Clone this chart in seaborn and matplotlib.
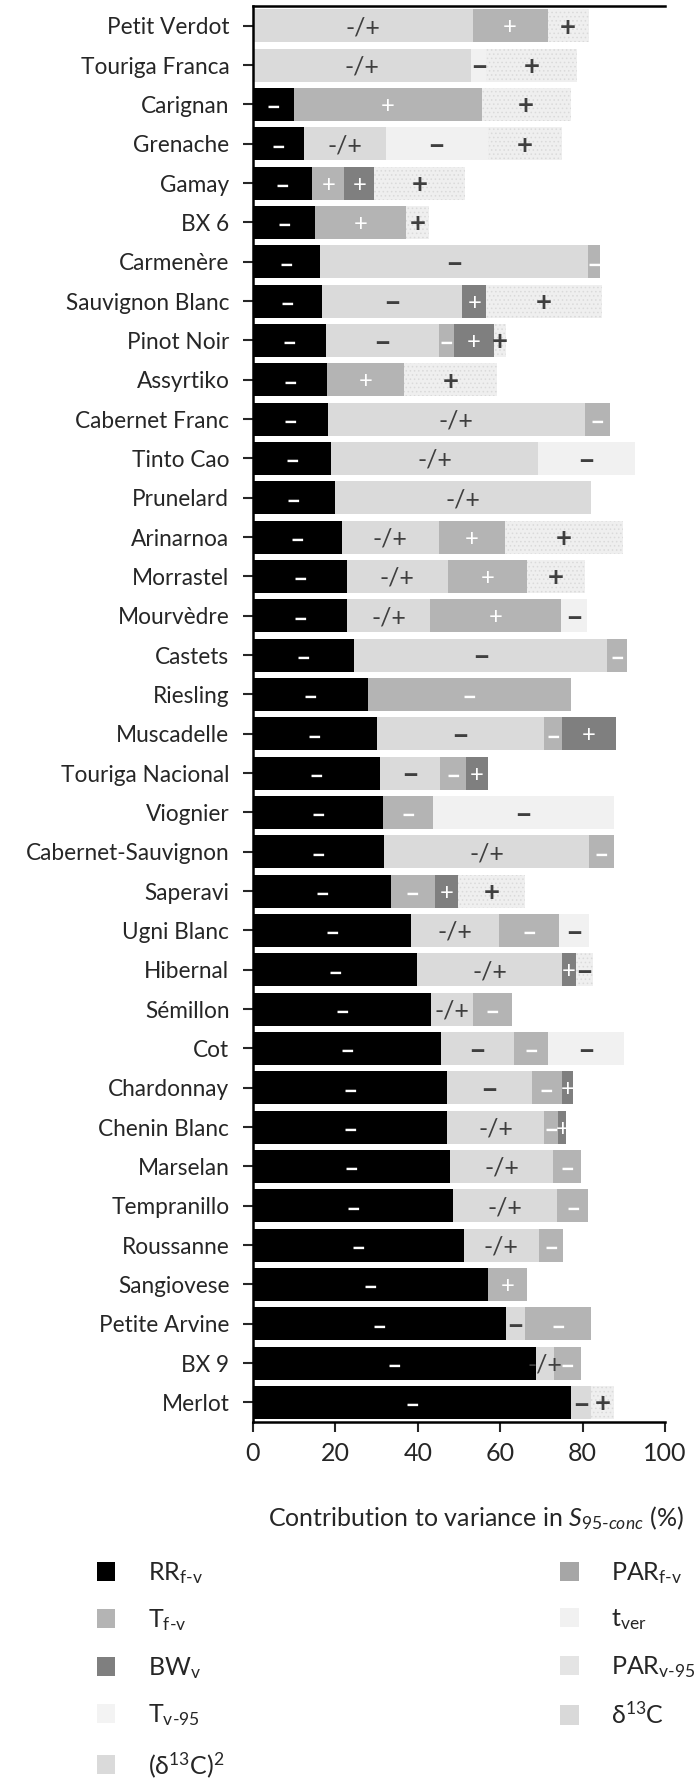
import numpy as np
import pandas as pd
import matplotlib
matplotlib.use('Agg')
import matplotlib.pyplot as plt
from matplotlib.patches import Patch
import seaborn as sns

sns.set_style('white')
plt.rcParams['font.family'] = ['Lato', 'DejaVu Sans']
plt.rcParams['mathtext.fontset'] = 'custom'
plt.rcParams['mathtext.rm'] = 'Lato'
plt.rcParams['mathtext.it'] = 'Lato:italic'
plt.rcParams['mathtext.bf'] = 'Lato:bold'
plt.rcParams['hatch.linewidth'] = 0.6

varieties = [
    'Petit Verdot', 'Touriga Franca', 'Carignan', 'Grenache', 'Gamay', 'BX 6',
    'Carmenère', 'Sauvignon Blanc', 'Pinot Noir', 'Assyrtiko', 'Cabernet Franc',
    'Tinto Cao', 'Prunelard', 'Arinarnoa', 'Morrastel', 'Mourvèdre', 'Castets',
    'Riesling', 'Muscadelle', 'Touriga Nacional', 'Viognier',
    'Cabernet-Sauvignon', 'Saperavi', 'Ugni Blanc', 'Hibernal', 'Sémillon',
    'Cot', 'Chardonnay', 'Chenin Blanc', 'Marselan', 'Tempranillo',
    'Roussanne', 'Sangiovese', 'Petite Arvine', 'BX 9', 'Merlot',
]

# segment widths (% of variance), stacked left to right in this order
rr_fv = [0, 0, 9.9, 12.4, 14.3, 15.1, 16.3, 16.7, 17.8, 18.0, 18.1, 18.9,
         19.8, 21.5, 22.8, 22.9, 24.6, 27.8, 30.0, 30.8, 31.5, 31.9, 33.5,
         38.4, 39.9, 43.2, 45.6, 47.1, 47.2, 47.9, 48.5, 51.1, 57.0, 61.4,
         68.8, 77.2]
d13c = [53.3, 53.0, 0, 19.8, 0, 0, 65.1, 34.1, 27.3, 0, 62.5, 50.3, 62.2,
        23.6, 24.5, 20.0, 61.4, 0, 40.7, 14.7, 0, 49.6, 0, 21.4, 35.0, 10.1,
        17.8, 20.6, 23.5, 24.9, 25.4, 18.3, 0, 4.7, 4.3, 4.8]
t_fv = [18.2, 0, 45.6, 0, 7.9, 22.1, 2.8, 0, 3.6, 18.7, 6.0, 0, 0, 16.1,
        19.2, 31.9, 4.8, 49.4, 4.4, 6.1, 12.3, 6.2, 10.6, 14.5, 0, 9.5, 8.2,
        7.2, 3.4, 6.9, 7.5, 5.8, 9.4, 15.9, 6.5, 0]
bw_v = [0, 0, 0, 0, 7.2, 0, 0, 5.8, 9.9, 0, 0, 0, 0, 0, 0, 0, 0, 0, 12.9,
        5.4, 0, 0, 5.7, 0, 3.4, 0, 0, 2.8, 1.9, 0, 0, 0, 0, 0, 0, 0]
t_ver = [0, 3.6, 0, 24.8, 0, 0, 0, 0, 0, 0, 0, 23.6, 0, 0, 0, 6.3, 0, 0, 0,
         0, 43.8, 0, 0, 7.2, 0, 0, 18.4, 0, 0, 0, 0, 0, 0, 0, 0, 0]
par_v95 = [10.0, 22.1, 21.6, 17.9, 22.1, 5.5, 0, 28.0, 2.8, 22.5, 0, 0, 0,
           28.6, 14.1, 0, 0, 0, 0, 0, 0, 0, 16.3, 0, 4.2, 0, 0, 0, 0, 0, 0,
           0, 0, 0, 0, 5.7]

# sign of each non-empty segment, left to right
signs = [
    '-/+ + +', '-/+ - +', '- + +', '- -/+ - +', '- + + +', '- + +',
    '- - -', '- - + +', '- - - + +', '- + +', '- -/+ -', '- -/+ -',
    '- -/+', '- -/+ + +', '- -/+ + +', '- -/+ + -', '- - -', '- -',
    '- - - +', '- - - +', '- - -', '- -/+ -', '- - + +', '- -/+ - -',
    '- -/+ + -', '- -/+ -', '- - - -', '- - - +', '- -/+ - +', '- -/+ -',
    '- -/+ -', '- -/+ -', '- +', '- - -', '- -/+ -', '- - +',
]

legend_labels = [
    r'RR$_{\mathrm{f‐v}}$', r'T$_{\mathrm{f‐v}}$', r'BW$_{\mathrm{v}}$',
    r'T$_{\mathrm{v‐95}}$', r'(δ$^{\mathrm{13}}$C)$^{\mathrm{2}}$',
    r'PAR$_{\mathrm{f‐v}}$', r't$_{\mathrm{ver}}$', r'PAR$_{\mathrm{v‐95}}$',
    r'δ$^{\mathrm{13}}$C',
]
legend_colors = ['#000000', '#b4b4b4', '#7f7f7f', '#f3f3f3', '#dadada',
                 '#a6a6a6', '#f1f1f1', '#e4e4e4', '#d9d9d9']

stack = [
    ('rr', rr_fv, '#000000', None, 'white'),
    ('d13c', d13c, '#dadada', None, '#3f3f3f'),
    ('tfv', t_fv, '#b4b4b4', None, 'white'),
    ('bwv', bw_v, '#7f7f7f', None, 'white'),
    ('tver', t_ver, '#f1f1f1', None, '#3f3f3f'),
    ('parv', par_v95, '#efefef', '....', '#3f3f3f'),
]

widths = np.array([s[1] for s in stack], dtype=float)
cum = widths.cumsum(axis=0)

fig = plt.figure(figsize=(7, 17.89), dpi=100)
ax = fig.add_axes([0.3614, 0.2051, 0.5886, 0.7915])

# draw cumulative bars from the outside in so they read as a stack
for i in range(len(stack) - 1, -1, -1):
    name, _, col, hatch, _ = stack[i]
    df = pd.DataFrame({'variety': varieties, 'value': cum[i]})
    sns.barplot(data=df, x='value', y='variety', orient='h', color=col,
                saturation=1, width=0.84, linewidth=0, ax=ax)
    if hatch:
        for p in ax.containers[-1]:
            p.set_hatch(hatch)
            p.set_edgecolor('#dadada')
            p.set_linewidth(0)

for j, v in enumerate(varieties):
    tokens = signs[j].split()
    k = 0
    for i, (name, vals, col, hatch, tcol) in enumerate(stack):
        w = widths[i, j]
        if w <= 0:
            continue
        tok = tokens[k]
        k += 1
        xc = cum[i, j] - w / 2
        if tok == '-':
            ax.text(xc, j + 0.08, '−', ha='center', va='center', color=tcol,
                    fontsize=17 if tcol == 'white' else 20, fontweight='black')
        elif tok == '+':
            ax.text(xc, j + 0.05, '+', ha='center', va='center', color=tcol,
                    fontsize=17 if tcol == 'white' else 20,
                    fontweight='normal' if tcol == 'white' else 'bold')
        else:
            ax.text(xc, j + 0.05, '-/+', ha='center', va='center', color=tcol,
                    fontsize=18)

ax.set_xlim(0, 100)
ax.set_ylim(len(varieties) - 0.5, -0.5)
ax.set_xticks([0, 20, 40, 60, 80, 100])
ax.set_ylabel('')
ax.set_xlabel(r'Contribution to variance in $\mathit{S}_{\mathit{95‐conc}}$ (%)',
              fontsize=18)
ax.xaxis.set_label_coords(0.541, -0.058)
ax.tick_params(axis='x', length=7, width=1.5, labelsize=18, pad=7,
               direction='out', bottom=True)
ax.tick_params(axis='y', length=7, width=1.5, labelsize=16.3, pad=10,
               direction='out', left=True)
for side in ['left', 'bottom', 'top']:
    ax.spines[side].set_linewidth(1.8)
    ax.spines[side].set_color('black')
ax.spines['right'].set_visible(False)

handles = [Patch(facecolor=c, edgecolor='none') for c in legend_colors]
leg_kw = dict(frameon=False, fontsize=18, handlelength=0.75, handleheight=0.8,
              handletextpad=1.3, labelspacing=0.86, borderaxespad=0,
              borderpad=0)
fig.legend(handles[:5], legend_labels[:5], loc='upper left',
           bbox_to_anchor=(0.138, 0.128), **leg_kw)
fig.legend(handles[5:], legend_labels[5:], loc='upper left',
           bbox_to_anchor=(0.8, 0.128), **leg_kw)

fig.savefig('out.png', dpi=100)
